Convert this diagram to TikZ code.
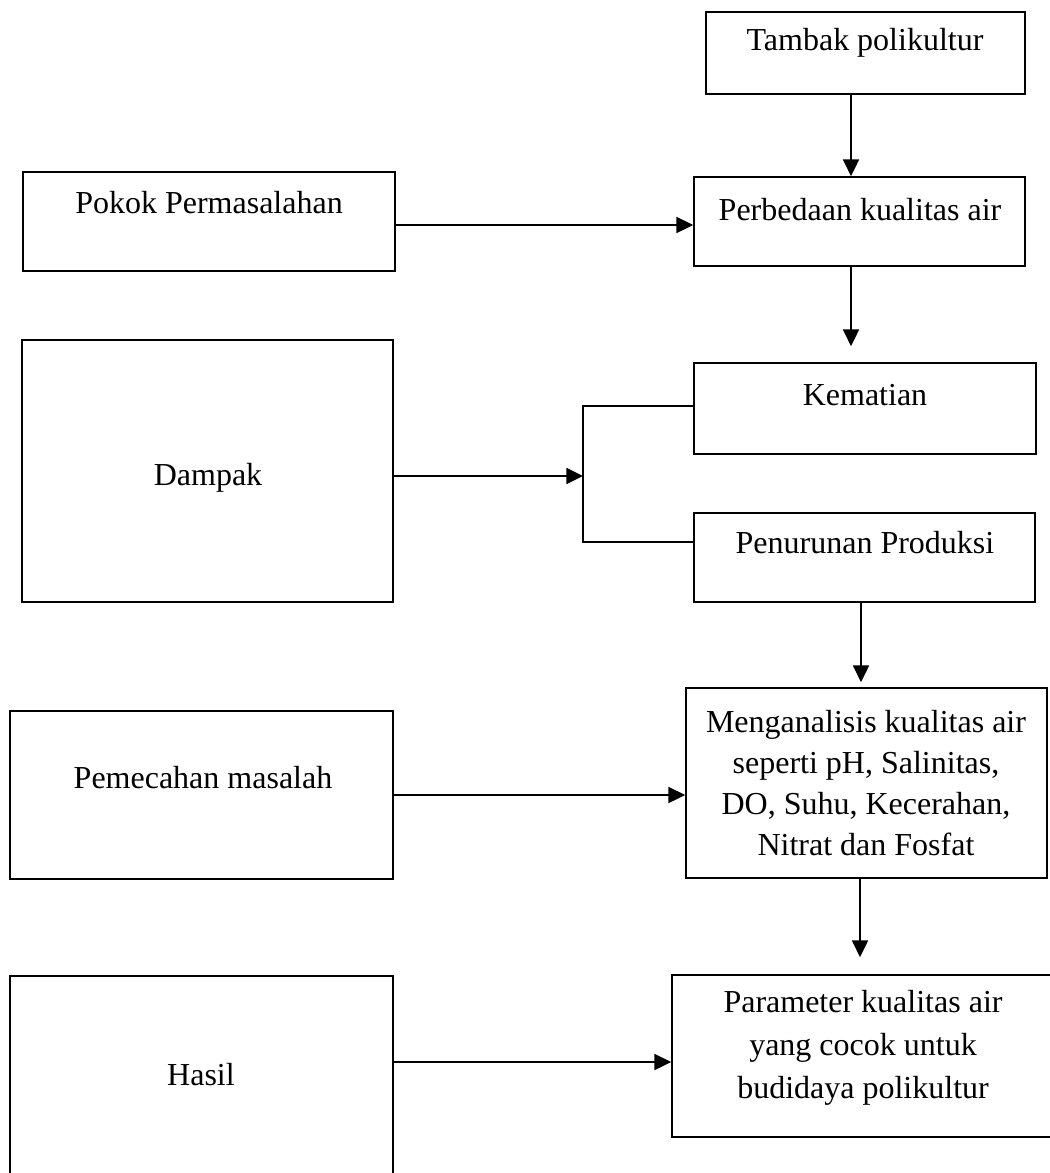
\documentclass[tikz,border=0pt]{standalone}
\usepackage{fontspec}
\setmainfont{Liberation Serif}
\usetikzlibrary{arrows.meta}
\begin{document}
\begin{tikzpicture}[x=0.75pt,y=-0.75pt,
  box/.style 2 args={draw, line width=1.3pt, inner sep=0pt, minimum width=#1*0.75pt, minimum height=#2*0.75pt},
  lbl/.style={inner sep=0pt, align=center, font=\fontsize{24}{30.75}\selectfont},
  arr/.style={-{Triangle[length=12.5pt,width=12pt]}, line width=1.3pt},
  ln/.style={line width=1.3pt}]
\useasboundingbox (0,0) rectangle (1049,1173);
% boxes
\node[box={319}{82}]  (tambak) at (865.5,53) {};
\node[box={331}{89}]  (perb)   at (859.5,221.5) {};
\node[box={372}{99}]  (pokok)  at (209,221.5) {};
\node[box={371}{262}] (dampak) at (207.5,471) {};
\node[box={342}{91}]  (kem)    at (865,408.5) {};
\node[box={341}{89}]  (pen)    at (864.5,557.5) {};
\node[box={383}{168}] (pem)    at (201.5,795) {};
\node[box={361}{190}] (meng)   at (866.5,783) {};
\node[box={383}{224}] (hasil)  at (201.5,1088) {};
\node[box={388}{162}] (param)  at (866,1056) {};
% texts
\node[lbl] (ttambak) at (865,43) {Tambak polikultur};
\node[lbl] (tperb)   at (860,210) {Perbedaan kualitas air};
\node[lbl] (tpokok)  at (209,203) {Pokok Permasalahan};
\node[lbl] (tdampak) at (208,478) {Dampak};
\node[lbl] (tkem)    at (865,395) {Kematian};
\node[lbl] (tpen)    at (865,543) {Penurunan Produksi};
\node[lbl] (tpem)    at (203,778) {Pemecahan masalah};
\node[lbl] (tmeng)   at (866,783) {Menganalisis kualitas air\\seperti pH, Salinitas,\\DO, Suhu, Kecerahan,\\Nitrat dan Fosfat};
\node[lbl] (thasil)  at (201,1075) {Hasil};
\node[lbl, font=\fontsize{24}{32}\selectfont] (tparam) at (863,1048) {Parameter kualitas air\\yang cocok untuk\\budidaya polikultur};
% helper coordinates
\coordinate (c1) at (851,0);
\coordinate (c2) at (0,225);
\coordinate (br) at (583,476);
\coordinate (kb) at (583,406);
\coordinate (pb) at (583,542);
\coordinate (c3) at (861,0);
\coordinate (c4) at (860,0);
\coordinate (c5) at (0,1062);
% connectors
\draw[arr] (c1 |- tambak.south) -- (c1 |- perb.north);
\draw[arr] (pokok.east |- c2) -- (perb.west |- c2);
\draw[arr, shorten >=12pt] (c1 |- perb.south) -- (c1 |- kem.north);
\draw[arr] (dampak.east |- br) -- (br);
\draw[ln] (kem.west |- kb) -- (kb) -- (pb) -- (pen.west |- pb);
\draw[arr, shorten >=3.75pt] (c3 |- pen.south) -- (c3 |- meng.north);
\draw[arr] (pem.east) -- (meng.west |- pem.east);
\draw[arr, shorten >=12.75pt] (c4 |- meng.south) -- (c4 |- param.north);
\draw[arr] (hasil.east |- c5) -- (param.west |- c5);
\end{tikzpicture}
\end{document}
